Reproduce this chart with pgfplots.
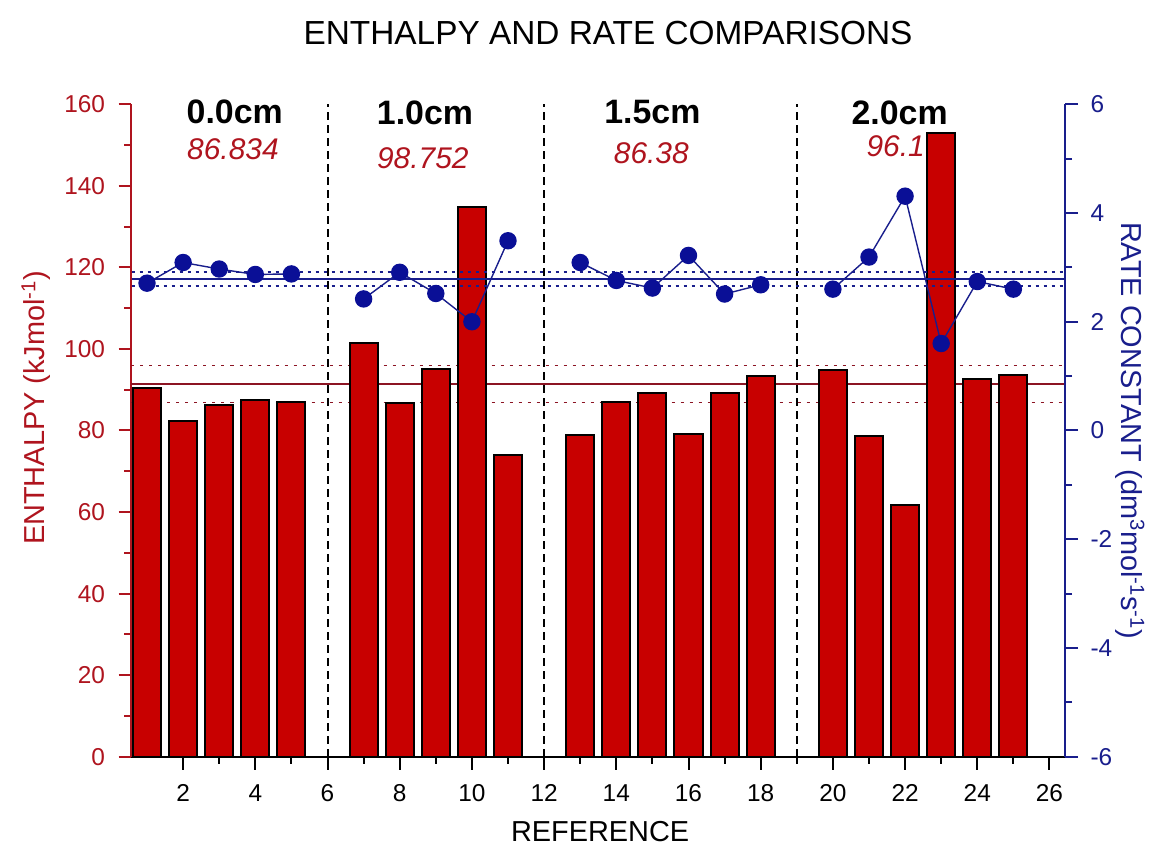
\documentclass[border=0pt]{standalone}
\usepackage{fontspec}
\setmainfont{Liberation Sans}
\usepackage{pgfplots}
\pgfplotsset{compat=1.18}
\definecolor{barred}{RGB}{200,0,0}
\definecolor{axred}{RGB}{175,20,30}
\definecolor{meanred}{RGB}{140,20,35}
\definecolor{navy}{RGB}{25,30,140}
\definecolor{ptblue}{RGB}{10,15,150}
\pgfplotsset{
  tick style={line width=2bp},
  major tick style={line width=2bp},
  minor tick style={line width=2bp},
}
\begin{document}
\begin{tikzpicture}
\path[use as bounding box] (-131.5bp,-92.3bp) rectangle (1021.5bp,756.7bp);
\begin{axis}[
  at={(0,0)}, anchor=south west,
  width=933.5bp, height=652.4bp, scale only axis,
  xmin=0.57, xmax=26.43, ymin=0, ymax=160,
  clip=false,
  axis x line*=bottom, axis y line*=left,
  x axis line style={-, draw=black, line width=2bp},
  y axis line style={-, draw=axred, line width=2bp},
  xtick={2,4,...,26}, minor x tick num=1,
  ytick={0,20,...,160}, minor y tick num=1,
  tick align=outside,
  major tick length=13bp, minor tick length=7bp,
  xtick style={draw=black, line width=2bp},
  ytick style={draw=axred, line width=2bp},
  /pgf/number format/assume math mode=true,
  xticklabel style={font=\fontsize{24.5}{24.5}\selectfont, text=black, yshift=-11bp},
  yticklabel style={font=\fontsize{24.5}{24.5}\selectfont, text=axred, xshift=-10bp},
]
\addplot[meanred, line width=1.4bp, forget plot] coordinates {(0.57,91.4)(26.43,91.4)};
\addplot[meanred, line width=1.4bp, dash pattern=on 3bp off 6bp, forget plot] coordinates {(0.57,95.9)(26.43,95.9)};
\addplot[meanred, line width=1.4bp, dash pattern=on 3bp off 6bp, forget plot] coordinates {(0.57,86.8)(26.43,86.8)};
\addplot[ybar, bar width=0.78, bar shift=0pt, fill=barred, draw=black, line width=2bp] coordinates {
(1,90.3)(2,82.4)(3,86.2)(4,87.4)(5,86.9)
(7,101.5)(8,86.8)(9,95.0)(10,134.9)(11,73.9)
(13,78.8)(14,86.9)(15,89.2)(16,79.1)(17,89.2)(18,93.3)
(20,94.8)(21,78.6)(22,61.8)(23,152.9)(24,92.6)(25,93.6)};
\addplot[black, line width=2bp, dash pattern=on 8bp off 5bp] coordinates {(6,0)(6,160)};
\addplot[black, line width=2bp, dash pattern=on 8bp off 5bp] coordinates {(12,0)(12,160)};
\addplot[black, line width=2bp, dash pattern=on 8bp off 5bp] coordinates {(19,0)(19,160)};
\node[font=\bfseries\fontsize{34}{34}\selectfont] at (axis cs:3.43,158.2) {0.0cm};
\node[font=\bfseries\fontsize{34}{34}\selectfont] at (axis cs:8.70,158.0) {1.0cm};
\node[font=\bfseries\fontsize{34}{34}\selectfont] at (axis cs:15.0,158.0) {1.5cm};
\node[font=\bfseries\fontsize{34}{34}\selectfont] at (axis cs:21.85,158.0) {2.0cm};
\node[font=\itshape\fontsize{30}{30}\selectfont, text=axred] at (axis cs:3.38,148.9) {86.834};
\node[font=\itshape\fontsize{30}{30}\selectfont, text=axred] at (axis cs:8.64,146.8) {98.752};
\node[font=\itshape\fontsize{30}{30}\selectfont, text=axred] at (axis cs:14.97,148.0) {86.38};
\node[font=\itshape\fontsize{30}{30}\selectfont, text=axred, anchor=east, inner sep=0pt] at (axis cs:22.55,149.6) {96.1};
\node[font=\fontsize{29}{29}\selectfont, text=axred, rotate=90] at (rel axis cs:-0.1023,0.5345) {ENTHALPY (kJmol\textsuperscript{-1})};
\node[font=\fontsize{29}{29}\selectfont, text=black] at (rel axis cs:0.502,0) [yshift=-75bp] {REFERENCE};
\node[font=\fontsize{33.5}{33.5}\selectfont, text=black] at (rel axis cs:0.5105,1) [yshift=71bp] {ENTHALPY AND RATE COMPARISONS};
\end{axis}
\begin{axis}[
  at={(0,0)}, anchor=south west,
  width=933.5bp, height=652.4bp, scale only axis,
  xmin=0.57, xmax=26.43, ymin=-6, ymax=6,
  clip=false,
  axis x line=none, axis y line*=right,
  y axis line style={-, draw=navy, line width=2bp},
  ytick={-6,-4,...,6}, minor y tick num=1,
  tick align=outside,
  major tick length=13bp, minor tick length=7bp,
  ytick style={draw=navy, line width=2bp},
  /pgf/number format/assume math mode=true,
  yticklabel style={font=\fontsize{24.5}{24.5}\selectfont, text=navy, xshift=9bp},
]
\addplot[navy, line width=1.4bp] coordinates {(0.57,2.786)(26.43,2.786)};
\addplot[navy, line width=1.7bp, dash pattern=on 3bp off 5bp] coordinates {(0.57,2.91)(26.43,2.91)};
\addplot[navy, line width=1.7bp, dash pattern=on 3bp off 5bp] coordinates {(0.57,2.66)(26.43,2.66)};
\addplot[navy, line width=1.4bp, mark=*, mark size=8bp, mark options={fill=ptblue, draw=ptblue, solid}, unbounded coords=jump] coordinates {
(1,2.71)(2,3.09)(3,2.97)(4,2.87)(5,2.88)(6,nan)
(7,2.42)(8,2.91)(9,2.52)(10,2.00)(11,3.49)(12,nan)
(13,3.09)(14,2.76)(15,2.62)(16,3.22)(17,2.51)(18,2.68)(19,nan)
(20,2.60)(21,3.19)(22,4.31)(23,1.60)(24,2.74)(25,2.60)};
\node[font=\fontsize{29}{29}\selectfont, text=navy, rotate=-90] at (rel axis cs:1.0696,0.5) {RATE CONSTANT (dm\textsuperscript{3}mol\textsuperscript{-1}s\textsuperscript{-1})};
\end{axis}
\end{tikzpicture}
\end{document}
